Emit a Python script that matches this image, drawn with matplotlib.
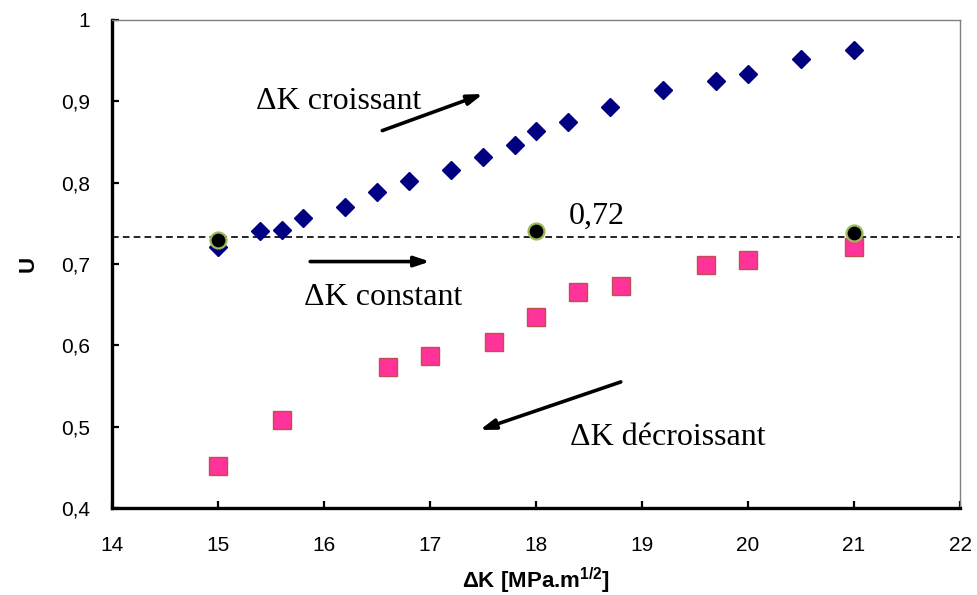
"""
U versus Delta K: increasing, constant and decreasing Delta K tests.

  python plot.py        # writes out.png
"""
import matplotlib
matplotlib.use("Agg")
import matplotlib.pyplot as plt
from matplotlib.ticker import FuncFormatter

# increasing Delta K (blue diamonds)
dk_up = [15.0, 15.4, 15.6, 15.8, 16.2, 16.5, 16.8, 17.2, 17.5, 17.8,
         18.0, 18.3, 18.7, 19.2, 19.7, 20.0, 20.5, 21.0]
u_up = [0.721, 0.740, 0.742, 0.757, 0.770, 0.789, 0.802, 0.816, 0.832, 0.846,
        0.864, 0.875, 0.893, 0.914, 0.925, 0.934, 0.952, 0.963]

# decreasing Delta K (pink squares)
dk_down = [15.0, 15.6, 16.6, 17.0, 17.6, 18.0, 18.4, 18.8, 19.6, 20.0, 21.0]
u_down = [0.452, 0.508, 0.573, 0.587, 0.604, 0.635, 0.665, 0.673, 0.699, 0.705, 0.721]

# constant Delta K (black dots)
dk_const = [15.0, 18.0, 21.0]
u_const = [0.730, 0.741, 0.738]

U_MEAN = 0.733
U_MEAN_LABEL = "0,72"

x_ticks = [14, 15, 16, 17, 18, 19, 20, 21, 22]
y_ticks = [0.4, 0.5, 0.6, 0.7, 0.8, 0.9, 1.0]

SERIF = "Liberation Serif"
SANS = "Liberation Sans"

plt.rcParams["font.family"] = [SANS, "DejaVu Sans"]
plt.rcParams["mathtext.fontset"] = "custom"
plt.rcParams["mathtext.rm"] = SANS
plt.rcParams["mathtext.bf"] = SANS + ":bold"

fig = plt.figure(figsize=(9.77, 5.95), dpi=100)
ax = fig.add_axes([0.1146, 0.1462, 0.8680, 0.8202])

ax.axhline(U_MEAN, color="black", lw=1.2, ls=(0, (4, 2.5)), zorder=1)

ax.plot(dk_up, u_up, ls="none", marker="D", ms=9.5, color="#000080",
        mec="#000080", zorder=2)
ax.plot(dk_down, u_down, ls="none", marker="s", ms=12.5, color="#ff3399",
        mec="#c0504d", mew=1.0, zorder=2)
ax.plot(dk_const, u_const, ls="none", marker="o", ms=11.5, color="black",
        mec="#9bbb59", mew=1.6, zorder=3)

arrow = dict(arrowstyle="-|>,head_length=0.9,head_width=0.3", color="black",
             lw=2.6, shrinkA=0, shrinkB=0)
ax.annotate("", xy=(17.50, 0.909), xytext=(16.55, 0.864), arrowprops=arrow)
ax.annotate("", xy=(17.00, 0.703), xytext=(15.87, 0.703), arrowprops=arrow)
ax.annotate("", xy=(17.47, 0.496), xytext=(18.80, 0.555), arrowprops=arrow)

txt = dict(ha="center", va="center", fontsize=23, family=[SERIF, "DejaVu Serif"])
ax.text(16.14, 0.900, "ΔK croissant", **txt)
ax.text(16.56, 0.659, "ΔK constant", **txt)
ax.text(19.24, 0.487, "ΔK décroissant", **txt)
ax.text(18.575, 0.759, U_MEAN_LABEL, **txt)

ax.set_xlim(14, 22)
ax.set_ylim(0.4, 1.0)
ax.set_xticks(x_ticks)
ax.set_yticks(y_ticks)
ax.yaxis.set_major_formatter(FuncFormatter(lambda v, p: f"{v:g}".replace(".", ",")))

ax.tick_params(direction="in", length=5, width=1.6, labelsize=15)
ax.tick_params(axis="x", pad=20)
ax.tick_params(axis="y", pad=16)

for side in ("left", "bottom"):
    ax.spines[side].set_linewidth(2.4)
    ax.spines[side].set_color("black")
for side in ("top", "right"):
    ax.spines[side].set_linewidth(1.0)
    ax.spines[side].set_color("#808080")

ax.set_xlabel(r"ΔK [MPa.m$^{\mathbf{1/2}}$]", fontsize=16, fontweight="bold",
              labelpad=8)
ax.set_ylabel("U", fontsize=16, fontweight="bold", labelpad=16)

fig.savefig("out.png", dpi=100)
plt.close(fig)
